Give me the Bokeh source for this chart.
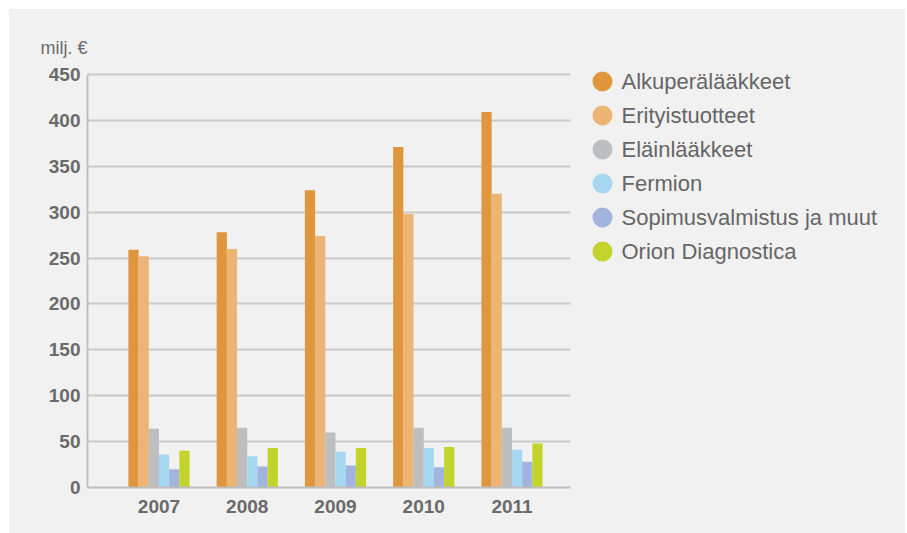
from bokeh.plotting import figure
from bokeh.layouts import row
from bokeh.models import ColumnDataSource, Range1d, FixedTicker, Title
from bokeh.transform import dodge
from bokeh.core.properties import value
from bokeh.embed import file_html
from bokeh.resources import INLINE

# ---- data ----
years = ["2007", "2008", "2009", "2010", "2011"]
series_names = ["Alkuperälääkkeet", "Erityistuotteet", "Eläinlääkkeet",
                "Fermion", "Sopimusvalmistus ja muut", "Orion Diagnostica"]
alkuperalaakkeet = [259, 278, 324, 371, 409]
erityistuotteet = [252, 260, 274, 298, 320]
elainlaakkeet = [64, 65, 60, 65, 65]
fermion = [36, 34, 39, 43, 41]
sopimusvalmistus = [20, 23, 24, 22, 28]
orion_diagnostica = [40, 43, 43, 44, 48]
series_values = [alkuperalaakkeet, erityistuotteet, elainlaakkeet,
                 fermion, sopimusvalmistus, orion_diagnostica]
colors = ["#E0963C", "#ECB574", "#BDBEC0", "#A5D8F0", "#A2B3DD", "#C2D32B"]
y_ticks = [0, 50, 100, 150, 200, 250, 300, 350, 400, 450]
unit_label = "milj. €"

BG = "#f1f1f1"
FONT = "Liberation Sans"
TXT = "#6a6a6a"

data = {"x": list(range(len(years)))}
for i, vals in enumerate(series_values):
    data[f"s{i}"] = vals
src = ColumnDataSource(data)

H = 524
p = figure(width=566, height=H, output_backend="svg", toolbar_location=None,
           x_range=Range1d(-0.81, 4.663), y_range=Range1d(0, 463.07),
           min_border_left=78, min_border_right=5, min_border_top=53, min_border_bottom=46)
p.background_fill_color = BG
p.border_fill_color = BG
p.outline_line_color = None

bw = 0.1155
n = len(series_names)
for i in range(n):
    p.vbar(x=dodge("x", (i - (n - 1) / 2) * bw), top=f"s{i}", width=bw, source=src,
           fill_color=colors[i], line_color=None)

p.xgrid.grid_line_color = None
p.ygrid.grid_line_color = "#c9c9c9"
p.ygrid.grid_line_width = 1.8
p.ygrid.ticker = FixedTicker(ticks=y_ticks)

p.yaxis.ticker = FixedTicker(ticks=y_ticks)
p.yaxis.bounds = (y_ticks[0], y_ticks[-1])
p.xaxis.ticker = FixedTicker(ticks=list(range(len(years))))
p.xaxis.major_label_overrides = {i: y for i, y in enumerate(years)}
for ax in (p.xaxis, p.yaxis):
    ax.major_tick_line_color = None
    ax.minor_tick_line_color = None
    ax.major_tick_out = 0
    ax.major_tick_in = 0
    ax.major_label_text_font = FONT
    ax.major_label_text_font_style = "bold"
    ax.major_label_text_font_size = "19px"
    ax.major_label_text_color = TXT
p.yaxis.axis_line_color = "#bdbdbd"
p.yaxis.axis_line_width = 1.8
p.xaxis.axis_line_color = "#bdbdbd"
p.xaxis.axis_line_width = 2
p.yaxis.major_label_standoff = 7
p.xaxis.major_label_standoff = 12

p.title = Title(text=unit_label, align="left", offset=-47, standoff=9,
                text_font=FONT, text_font_size="18px", text_font_style="normal",
                text_color=TXT)

# ---- legend panel ----
leg = ColumnDataSource({"k": list(range(n)), "name": series_names, "color": colors})
p2 = figure(width=330, height=H, output_backend="svg", toolbar_location=None,
            x_range=Range1d(-27, 303), y_range=Range1d(11.941, -0.5588),
            min_border_left=0, min_border_right=0, min_border_top=53, min_border_bottom=46)
p2.background_fill_color = BG
p2.border_fill_color = BG
p2.outline_line_color = None
p2.axis.visible = False
p2.grid.visible = False
p2.scatter(x=0, y="k", size=20, marker="circle", fill_color="color", line_color=None, source=leg)
p2.text(x=19, y="k", text="name", source=leg, text_font=value(FONT), text_font_size="22px",
        text_color="#666666", text_baseline="middle", text_align="left")

layout = row(p, p2, margin=(9, 0, 0, 9), styles={"background-color": BG})
open("out.html", "w").write(file_html(layout, INLINE))
